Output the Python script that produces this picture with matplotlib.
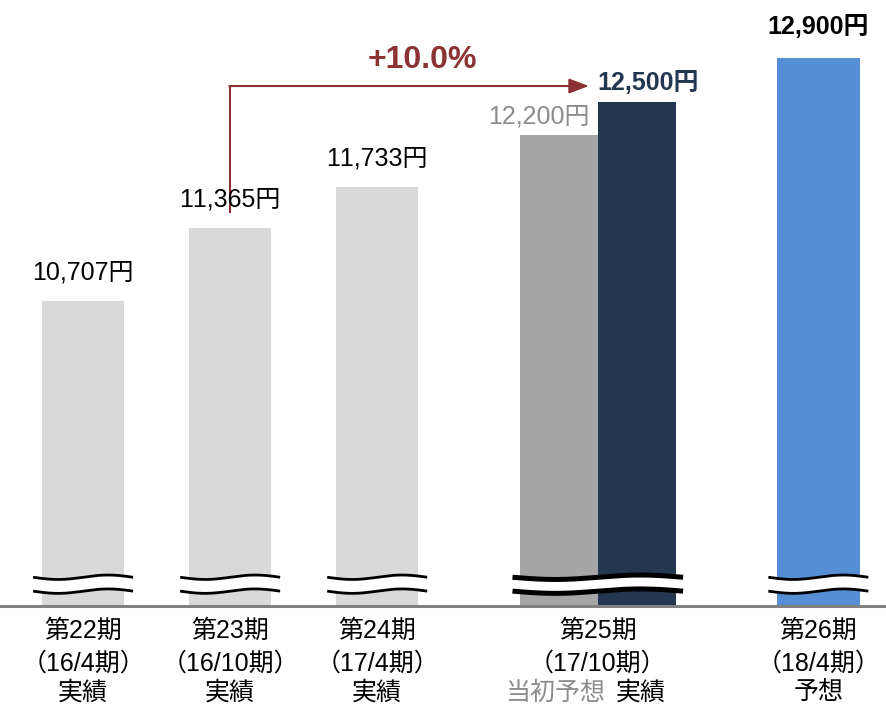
import matplotlib
matplotlib.use('Agg')
import matplotlib.pyplot as plt
import numpy as np

# data
period_names = ['第22期', '第23期', '第24期', '第25期', '第26期']
period_dates = ['（16/4期）', '（16/10期）', '（17/4期）', '（17/10期）', '（18/4期）']
period_kinds = ['実績', '実績', '実績', None, '予想']
past_values = [10707, 11365, 11733]
initial_forecast_25 = 12200
actual_25 = 12500
forecast_26 = 12900
growth_text = '+10.0%'

x_pos = [0, 1, 2, 3.5, 5]
FONT = ['Liberation Sans', 'Noto Sans CJK JP', 'DejaVu Sans']
plt.rcParams['font.family'] = FONT
plt.rcParams['text.kerning_factor'] = 6  # no tight "11" kerning

LIGHT = '#D9D9D9'
MID = '#A6A6A6'
NAVY = '#243750'
BLUE = '#558ED5'
RED = '#8B3232'
Y0 = 7965

fig = plt.figure(figsize=(8.86, 7.04), dpi=100)
ax = fig.add_axes([0, 0.139, 1, 0.861])
ax.set_xlim(-0.565, 5.46)
ax.set_ylim(Y0, 13419)

bw = 0.56
pw = 0.53
ax.bar(x_pos[:3], [v - Y0 for v in past_values], bottom=Y0, width=bw, color=LIGHT)
ax.bar(x_pos[3] - pw / 2, initial_forecast_25 - Y0, bottom=Y0, width=pw, color=MID)
ax.bar(x_pos[3] + pw / 2, actual_25 - Y0, bottom=Y0, width=pw, color=NAVY)
ax.bar(x_pos[4], forecast_26 - Y0, bottom=Y0, width=bw, color=BLUE)


def fmt(v):
    return f'{v:,}円'


def draw_break(xc, half, lw):
    xs = np.linspace(xc - half, xc + half, 200)
    t = (xs - xs[0]) / (xs[-1] - xs[0])
    wave = 20 * np.sin(2 * np.pi * t)
    top = 8225 - wave
    bot = 8100 - wave
    ax.fill_between(xs, bot, top, color='white', zorder=3, lw=0)
    ax.plot(xs, top, color='black', lw=lw, zorder=4, solid_capstyle='butt')
    ax.plot(xs, bot, color='black', lw=lw, zorder=4, solid_capstyle='butt')


for xp in x_pos[:3] + [x_pos[4]]:
    draw_break(xp, 0.34, 2.0)
draw_break(x_pos[3], 0.58, 3.6)

# value labels
for xp, v in zip(x_pos[:3], past_values):
    ax.annotate(fmt(v), (xp, v), xytext=(0, 21), textcoords='offset points',
                ha='center', va='center', fontsize=18, color='black')
ax.annotate(fmt(forecast_26), (x_pos[4], forecast_26), xytext=(0, 22),
            textcoords='offset points', ha='center', va='center',
            fontsize=18, fontweight='bold', color='black')
ax.annotate(fmt(initial_forecast_25), (x_pos[3], initial_forecast_25),
            xytext=(-6, 14), textcoords='offset points', ha='right',
            va='center', fontsize=18, color='#8C8C8C')
ax.annotate(fmt(actual_25), (x_pos[3], actual_25), xytext=(0, 14),
            textcoords='offset points', ha='left', va='center',
            fontsize=18, fontweight='bold', color=NAVY)

# growth arrow
y_arrow = 12645
ax.plot([x_pos[1], x_pos[1]], [11501, y_arrow], color=RED, lw=1.5,
        solid_capstyle='butt')
ax.annotate('', xy=(x_pos[3] - 0.06, y_arrow), xytext=(x_pos[1] - 0.005, y_arrow),
            arrowprops=dict(arrowstyle='-|>,head_length=1.2,head_width=0.45',
                            color=RED, lw=1.5, shrinkA=0, shrinkB=0))
ax.text(2.31, 12879, growth_text, ha='center', va='center', fontsize=23,
        fontweight='bold', color=RED)

# axis styling
for s in ['top', 'left', 'right']:
    ax.spines[s].set_visible(False)
ax.spines['bottom'].set_color('#808080')
ax.spines['bottom'].set_linewidth(2.2)
ax.set_xticks([])
ax.set_yticks([])

# category labels
offsets = [-17.5, -41.5, -62]
for i, xp in enumerate(x_pos):
    ax.annotate(period_names[i], (xp, 0), xycoords=('data', 'axes fraction'),
                xytext=(0, offsets[0]), textcoords='offset points',
                ha='center', va='center', fontsize=18)
    ax.annotate(period_dates[i], (xp, 0), xycoords=('data', 'axes fraction'),
                xytext=(0, offsets[1]), textcoords='offset points',
                ha='center', va='center', fontsize=18)
    if period_kinds[i]:
        ax.annotate(period_kinds[i], (xp, 0), xycoords=('data', 'axes fraction'),
                    xytext=(0, offsets[2]), textcoords='offset points',
                    ha='center', va='center', fontsize=18)
ax.annotate('当初予想', (x_pos[3] - 0.29, 0), xycoords=('data', 'axes fraction'),
            xytext=(0, offsets[2]), textcoords='offset points',
            ha='center', va='center', fontsize=18, color='#8C8C8C')
ax.annotate('実績', (x_pos[3] + 0.29, 0), xycoords=('data', 'axes fraction'),
            xytext=(0, offsets[2]), textcoords='offset points',
            ha='center', va='center', fontsize=18)

fig.savefig('out.png', dpi=100)
